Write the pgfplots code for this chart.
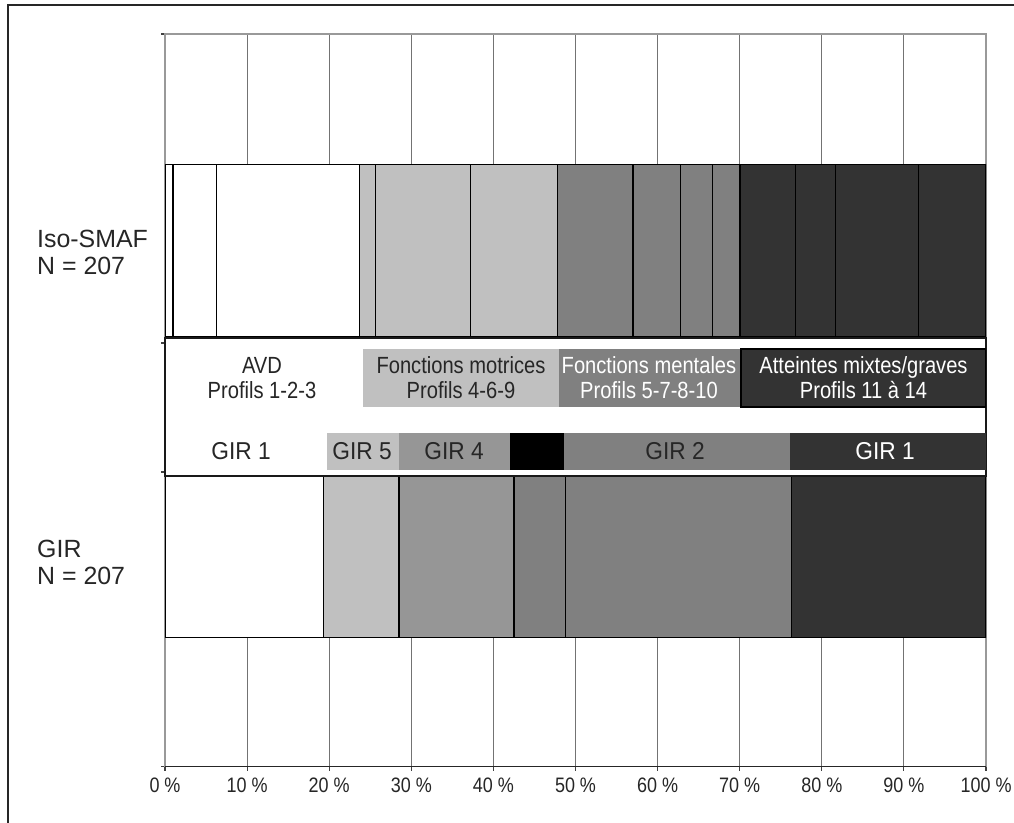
\documentclass[border=0pt]{standalone}
\usepackage{pgfplots}
\pgfplotsset{compat=1.18}
\usepackage{fontspec}
\setmainfont{Liberation Sans}
\newfontfamily\narrowfont[FakeStretch=0.86]{Liberation Sans}
\newfontfamily\girfont[FakeStretch=0.93]{Liberation Sans}

\definecolor{seglight}{HTML}{C0C0C0}
\definecolor{segmid}{HTML}{969696}
\definecolor{seggray}{HTML}{808080}
\definecolor{segdark}{HTML}{333333}
\definecolor{txt}{HTML}{262626}

% Common geometry: x in percent, y in (negative) points from the top edge
\pgfplotsset{
  barbase/.style={
    scale only axis, width=821bp, height=732.5bp,
    xmin=0, xmax=100, ymin=-766.5, ymax=-34,
    at={(165bp,-766.5bp)}, anchor=south west,
    xbar stacked,
    every axis plot/.append style={draw=black, line width=1.3bp},
  },
}

\begin{document}
\begin{tikzpicture}[x=1bp,y=1bp]
\path[use as bounding box] (0,0) rectangle (1014,-823);
\draw[line width=1.5bp, black!85] (8,-823) -- (8,-5) -- (1014,-5);

% Iso-SMAF profiles (share of N = 207)
\begin{axis}[barbase,
  bar width=172,
  xtick={0,10,...,100},
  xticklabels={0 \%,10 \%,20 \%,30 \%,40 \%,50 \%,60 \%,70 \%,80 \%,90 \%,100 \%},
  xtick pos=left, ytick pos=left,
  ytick={-766.5,-472,-343,-34}, yticklabels={},
  tick align=outside, major tick length=4bp,
  tick style={black!75, line width=1.1bp},
  xmajorgrids, major grid style={black!55, line width=1.1bp},
  axis line style={black!40, line width=1.2bp},
  xticklabel style={font=\narrowfont\fontsize{21}{21}\selectfont, text=txt, yshift=-4bp},
]
\draw[black!85, line width=2bp] (axis cs:0,-766.5) -- (axis cs:100,-766.5);
% AVD: profils 1-2-3
\addplot[fill=white]    coordinates {(0.97,-250.5)};
\addplot[fill=white]    coordinates {(5.31,-250.5)};
\addplot[fill=white]    coordinates {(17.39,-250.5)};
% Fonctions motrices: profils 4-6-9
\addplot[fill=seglight] coordinates {(1.93,-250.5)};
\addplot[fill=seglight] coordinates {(11.59,-250.5)};
\addplot[fill=seglight] coordinates {(10.63,-250.5)};
% Fonctions mentales: profils 5-7-8-10
\addplot[fill=seggray]  coordinates {(9.18,-250.5)};
\addplot[fill=seggray]  coordinates {(5.80,-250.5)};
\addplot[fill=seggray]  coordinates {(3.86,-250.5)};
\addplot[fill=seggray]  coordinates {(3.38,-250.5)};
% Atteintes mixtes/graves: profils 11 a 14
\addplot[fill=segdark]  coordinates {(6.76,-250.5)};
\addplot[fill=segdark]  coordinates {(4.83,-250.5)};
\addplot[fill=segdark]  coordinates {(10.14,-250.5)};
\addplot[fill=segdark]  coordinates {(8.21,-250.5)};
\end{axis}

% GIR groups (share of N = 207)
\begin{axis}[barbase, hide axis, bar width=161]
\addplot[fill=white]    coordinates {(19.32,-557)};
\addplot[fill=seglight] coordinates {(9.18,-557)};
\addplot[fill=segmid]   coordinates {(14.01,-557)};
\addplot[fill=seggray]  coordinates {(6.28,-557)};
\addplot[fill=seggray]  coordinates {(27.54,-557)};
\addplot[fill=segdark]  coordinates {(23.67,-557)};
\end{axis}

% Key between the two bars
\draw[fill=white, draw=black!90, line width=1.5bp] (165,-338) rectangle (986,-476);
\begin{scope}[every node/.style={align=center, inner sep=0pt}]
  \def\keyfont{\narrowfont\fontsize{23.5}{25}\selectfont}
  \def\girkey{\girfont\fontsize{24.5}{25}\selectfont}
  \fill[seglight] (363,-349) rectangle (559,-407);
  \fill[seggray]  (559,-349) rectangle (741,-407);
  \filldraw[fill=segdark, draw=black, line width=1.3bp] (741,-349) rectangle (985.5,-407);
  \node[font=\keyfont, text=txt]   at (262,-378)   {AVD\\Profils 1-2-3};
  \node[font=\keyfont, text=txt]   at (461,-378)   {Fonctions motrices\\Profils 4-6-9};
  \node[font=\keyfont, text=white] at (649,-378)   {Fonctions mentales\\Profils 5-7-8-10};
  \node[font=\keyfont, text=white] at (863.5,-378) {Atteintes mixtes/graves\\Profils 11 à 14};

  \fill[seglight] (327,-433) rectangle (399,-470);
  \fill[segmid]   (399,-433) rectangle (510,-470);
  \fill[black]    (510,-433) rectangle (564,-470);
  \fill[seggray]  (564,-433) rectangle (790,-470);
  \fill[segdark]  (790,-433) rectangle (985.5,-470);
  \node[font=\girkey, text=txt]   at (241,-451.5) {GIR 1};
  \node[font=\girkey, text=txt]   at (362,-451.5) {GIR 5};
  \node[font=\girkey, text=txt]   at (454,-451.5) {GIR 4};
  \node[font=\girkey, text=txt]   at (675,-451.5) {GIR 2};
  \node[font=\girkey, text=white] at (885,-451.5) {GIR 1};
\end{scope}

% Bar labels
\node[anchor=west, align=left, inner sep=0pt, font=\fontsize{25}{27}\selectfont, text=txt]
  at (37,-252.5) {Iso-SMAF\\N = 207};
\node[anchor=west, align=left, inner sep=0pt, font=\fontsize{25}{27}\selectfont, text=txt]
  at (37,-562.5) {GIR\\N = 207};
\end{tikzpicture}
\end{document}
